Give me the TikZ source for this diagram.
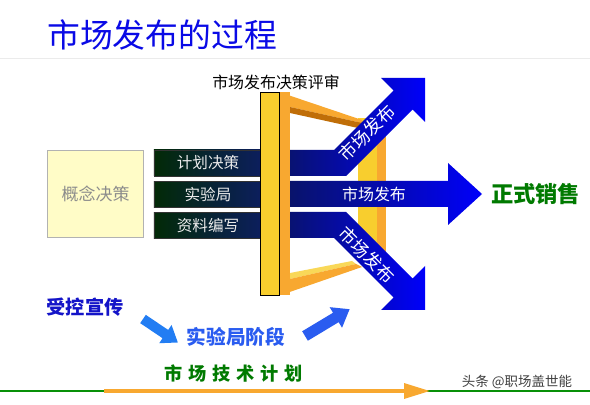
\documentclass[tikz,border=0pt]{standalone}
\usepackage{fontspec}
\setmainfont{Noto Sans CJK SC}
\usetikzlibrary{arrows.meta,positioning}
\definecolor{titleblue}{HTML}{0A0AE6}
\definecolor{frameyellow}{HTML}{F8CE2E}
\definecolor{frameorange}{HTML}{F8A830}
\definecolor{framebrown}{HTML}{C06E08}
\definecolor{boxgreen}{HTML}{022A06}
\definecolor{boxnavy}{HTML}{0C1E5E}
\definecolor{bandnavy}{HTML}{0A1656}
\definecolor{bandblue}{HTML}{0000FA}
\definecolor{salegreen}{HTML}{007A00}
\definecolor{promoblue}{HTML}{1414C8}
\definecolor{stageblue}{HTML}{2A5CF0}
\definecolor{linegreen}{HTML}{089008}

\begin{document}
\begin{tikzpicture}[x=0.03cm, y=-0.03cm,
    task/.style={draw=black!80, left color=boxgreen, right color=boxnavy, minimum width=3.24cm, minimum height=0.78cm, inner sep=0pt, text=white!92!black, font=\fontsize{13.3}{14}\selectfont},
    band/.style={left color=bandnavy, right color=bandblue},
    bandlabel/.style={text=white, font=\fontsize{#1}{15}\selectfont, inner sep=1pt},
    stagearrow/.style={fill=#1},
    >=Stealth
]
    \useasboundingbox (0,0) rectangle (590,405);
    \fill[white] (0,0) rectangle (590,405);

    % Title
    \node[anchor=west, text=titleblue, font=\fontsize{28}{30}\selectfont, inner sep=0pt] (title) at (47,35) {市场发布的过程};
    \draw[black!8, line width=0.03cm] (0,59) -- (590,59);

    % Back pillar and bars
    \fill[frameyellow] (358,118) rectangle (377,262);
    \fill[frameorange] (377,112) rectangle (386,258);
    \fill[frameorange] (279,92) -- (362,120) -- (362,123) -- (290,107) -- cycle;
    \fill[framebrown] (290,107) -- (362,123) -- (358,128) -- (290,113) -- cycle;
    \fill[frameyellow!80!white] (290,273) -- (352,261) -- (356,264) -- (290,279) -- cycle;
    \fill[frameorange] (281,295) -- (290,279) -- (356,264) -- (362,267) -- cycle;

    % Release arrows
    \shade[band] (262,150) -- (334,150) -- (393.5,90.5) -- (381,78) -- (425,78) -- (425,122)
        -- (412.5,109.5) -- (346,176) -- (262,176) -- cycle;
    \shade[band] (262,181) -- (448,181) -- (448,163) -- (482,194) -- (448,225) -- (448,207)
        -- (262,207) -- cycle;
    \shade[band] (262,238) -- (334,238) -- (393.5,297.5) -- (381,310) -- (425,310) -- (425,266)
        -- (412.5,278.5) -- (346,212) -- (262,212) -- cycle;
    \node[bandlabel=15, rotate=45] (up) at (367,133) {市场发布};
    \node[bandlabel=13.6] (mid) at (374,194) {市场发布};
    \node[bandlabel=15, rotate=-45] (down) at (367,255) {市场发布};

    % Work streams
    \node[task] (plan) at (208,163) {计划决策};
    \node[task, below=0.14cm of plan] (trial) {实验局};
    \node[task, below=0.14cm of trial] (docs) {资料编写};
    \node[draw=black!30, fill=yellow!22, minimum width=2.88cm, minimum height=2.61cm, inner sep=0pt,
        text=black!45, font=\fontsize{14.5}{15}\selectfont, left=0.3cm of trial] (concept) {概念决策};

    % Front pillar
    \fill[frameorange] (279,92) rectangle (290,295);
    \filldraw[fill=frameyellow, draw=black, line width=0.02cm] (260,92) rectangle (279,295);
    \node[font=\fontsize{13.6}{14}\selectfont] (review) at (276,82) {市场发布决策评审};

    \node[anchor=west, text=salegreen, font=\bfseries\fontsize{19}{20}\selectfont] (sale) at (487,194) {正式销售};

    % Stages
    \node[text=promoblue, font=\bfseries\fontsize{16.4}{17}\selectfont] (promo) at (85,307) {受控宣传};
    \node[text=stageblue, font=\bfseries\fontsize{16.8}{17}\selectfont] (stage) at (236,337) {实验局阶段};
    \begin{scope}[shift={(143,319)}, rotate=-34]
        \fill[stagearrow=stageblue!80!cyan] (0,-5) -- (27,-5) -- (27,-11) -- (42,0) -- (27,11) -- (27,5) -- (0,5) -- cycle;
    \end{scope}
    \begin{scope}[shift={(305,336)}, rotate=31]
        \fill[stagearrow=stageblue] (0,-5.5) -- (36,-5.5) -- (36,-12) -- (52,0) -- (36,12) -- (36,5.5) -- (0,5.5) -- cycle;
    \end{scope}

    % Timeline
    \node[text=salegreen, font=\bfseries\fontsize{15.5}{16}\selectfont\addfontfeature{LetterSpace=32}] (tech) at (234,374) {市场技术计划};
    \coordinate (lineL) at (0,391);
    \coordinate (lineR) at (590,391);
    \coordinate (techS) at (104,391);
    \coordinate (techE) at (430,391);
    \draw[linegreen, line width=0.045cm] (lineL) -- (lineR);
    \draw[frameorange, line width=0.1cm, -{Triangle[length=0.78cm, width=0.45cm]}] (techS) -- (techE);
    \node[text=black!75, font=\fontsize{11.5}{12}\selectfont] (mark) at (517,382) {头条 @职场盖世能};
\end{tikzpicture}
\end{document}
